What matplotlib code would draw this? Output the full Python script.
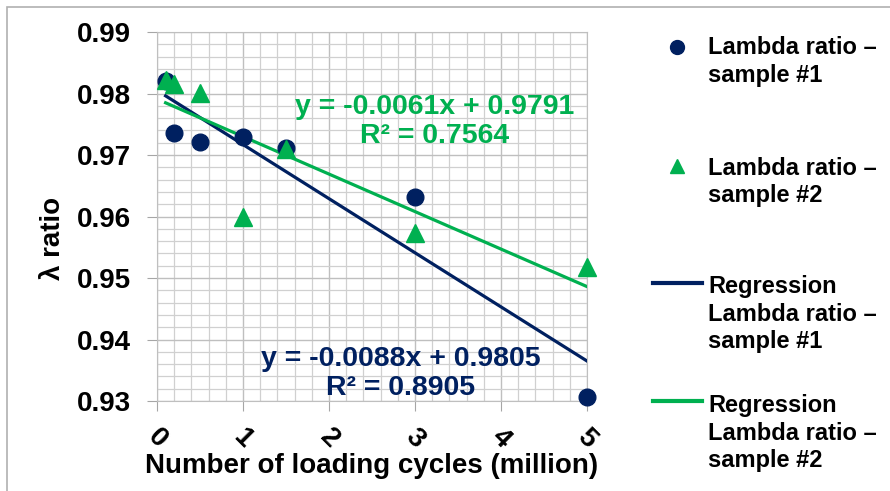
import numpy as np
import matplotlib
matplotlib.use("Agg")
import matplotlib.pyplot as plt
from matplotlib.patches import Rectangle
from matplotlib.lines import Line2D
from matplotlib.ticker import MultipleLocator

plt.rcParams['font.family'] = ['Liberation Sans', 'DejaVu Sans']
plt.rcParams['font.weight'] = 'bold'

cycles = [0.1, 0.2, 0.5, 1.0, 1.5, 3.0, 5.0]
ratio_s1 = [0.9820, 0.9735, 0.9721, 0.9730, 0.9712, 0.9632, 0.9307]
ratio_s2 = [0.9822, 0.9815, 0.9801, 0.9600, 0.9710, 0.9573, 0.9518]

# trendline coefficients as printed on the chart
slope_s1, icept_s1, r2_s1 = -0.0088, 0.9805, 0.8905
slope_s2, icept_s2, r2_s2 = -0.0061, 0.9791, 0.7564

legend_labels = [['Lambda ratio –', 'sample #1'],
                 ['Lambda ratio –', 'sample #2'],
                 ['Regression', 'Lambda ratio –', 'sample #1'],
                 ['Regression', 'Lambda ratio –', 'sample #2']]

navy = '#002060'
green = '#00B050'

W, H = 890, 491
fig = plt.figure(figsize=(8.9, 4.91), dpi=100)
fig.patches.append(Rectangle((0.008, -0.1), 1.1, 1.086, transform=fig.transFigure,
                             fill=False, edgecolor='#b0b0b0', linewidth=1.2))
ax = fig.add_axes([0.1764, 0.1833, 0.4832, 0.7515])

xfit = np.array([cycles[0], cycles[-1]])
ax.plot(cycles, ratio_s1, 'o', color=navy, markersize=12, zorder=4, clip_on=False)
ax.plot(cycles, ratio_s2, '^', color=green, markersize=13, zorder=5, clip_on=False)
ax.plot(xfit, slope_s1 * xfit + icept_s1, color=navy, linewidth=2.3, zorder=3)
ax.plot(xfit, slope_s2 * xfit + icept_s2, color=green, linewidth=2.3, zorder=3)

ax.set_xlim(0, 5)
ax.set_ylim(0.93, 0.99)
ax.xaxis.set_major_locator(MultipleLocator(1))
ax.xaxis.set_minor_locator(MultipleLocator(0.2))
ax.yaxis.set_major_locator(MultipleLocator(0.01))
ax.yaxis.set_minor_locator(MultipleLocator(0.002))
ax.grid(which='major', color='#bfbfbf', linewidth=1.0)
ax.grid(which='minor', color='#d0d0d0', linewidth=0.9)
ax.set_axisbelow(True)
for s in ax.spines.values():
    s.set_color('#bfbfbf')
ax.tick_params(which='major', length=7, color='#a6a6a6', labelsize=20)
ax.tick_params(which='minor', length=0)
ax.tick_params(axis='y', pad=12)
yt = np.arange(0.93, 0.9901, 0.01)
ax.set_yticks(yt)
ax.set_yticklabels([f'{v:.2f}' for v in yt], fontweight='bold')
ax.set_xticks(range(0, 6))
ax.set_xticklabels([str(i) for i in range(0, 6)], rotation=-45, fontweight='bold',
                   ha='center', va='center')
ax.tick_params(axis='x', pad=20)

ax.set_xlabel('Number of loading cycles (million)', fontsize=20, fontweight='bold', labelpad=0)
ax.set_ylabel('λ ratio', fontsize=20, fontweight='bold')
ax.yaxis.set_label_coords(-0.212, 0.44)

ax.text(3.23, 0.9755, f'y = {slope_s2:.4f}x + {icept_s2:.4f}\nR² = {r2_s2:.4f}',
        color=green, fontsize=20.5, fontweight='bold', ha='center', va='center',
        linespacing=1.15)
ax.text(2.83, 0.9345, f'y = {slope_s1:.4f}x + {icept_s1:.4f}\nR² = {r2_s1:.4f}',
        color=navy, fontsize=20.5, fontweight='bold', ha='center', va='center',
        linespacing=1.15)

# legend drawn by hand so the keys sit on the first text line
handles = [dict(marker='o', color=navy, ms=10, y=47),
           dict(marker='^', color=green, ms=10, y=166),
           dict(line=True, color=navy, y=283),
           dict(line=True, color=green, y=401)]
baselines = [[54, 82], [175, 202], [293, 321, 348], [412, 440, 467]]
for h, lines, bls in zip(handles, legend_labels, baselines):
    if h.get('line'):
        fig.add_artist(Line2D([653 / W, 702 / W], [1 - h['y'] / H] * 2,
                              color=h['color'], linewidth=3, transform=fig.transFigure))
    else:
        fig.add_artist(Line2D([677 / W], [1 - h['y'] / H], marker=h['marker'],
                              color=h['color'], markersize=h['ms'], linestyle='none',
                              transform=fig.transFigure))
    for txt, b in zip(lines, bls):
        fig.text(708 / W, 1 - b / H, txt, fontsize=17, fontweight='bold',
                 ha='left', va='baseline')

fig.savefig('out.png', dpi=100)
